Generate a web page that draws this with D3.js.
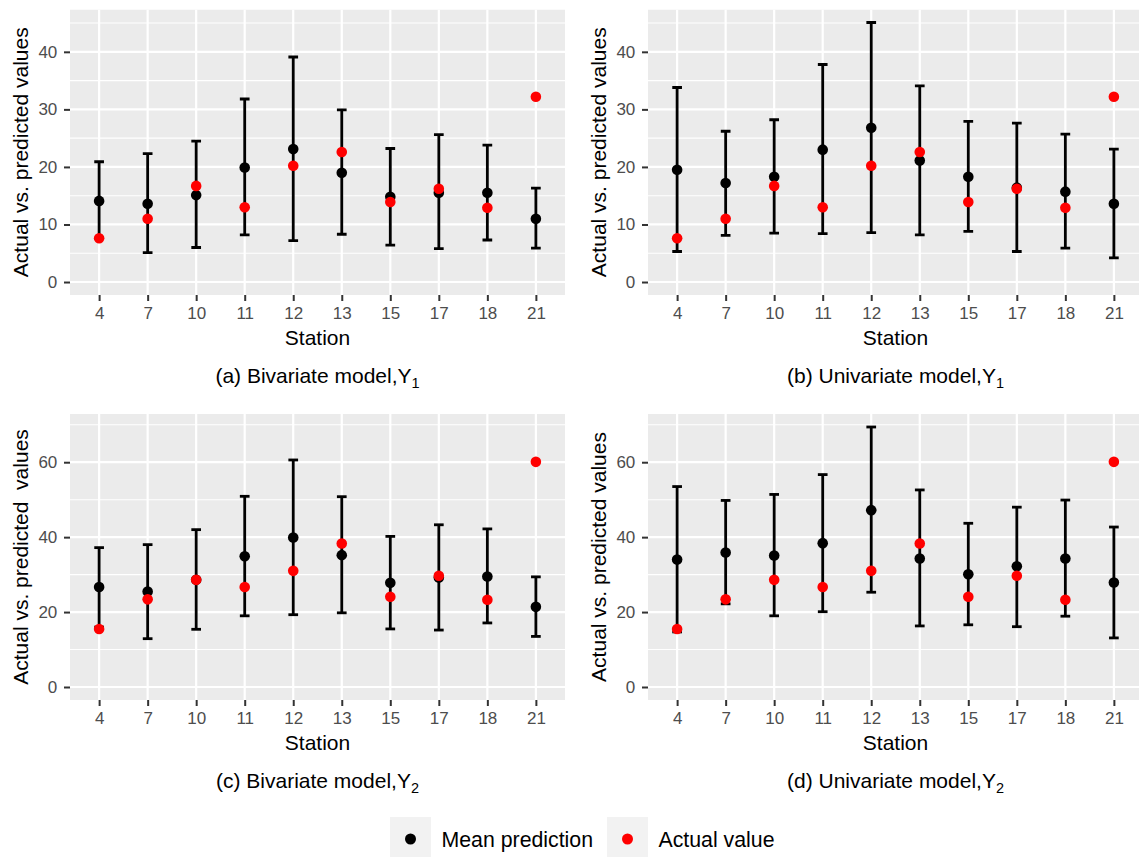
<!DOCTYPE html>
<html>
<head>
<meta charset="utf-8">
<script src="https://cdn.jsdelivr.net/npm/d3@7"></script>
<style>
  html, body { margin: 0; padding: 0; background: #fff; }
  svg { display: block; font-family: "Liberation Sans", Arial, Helvetica, sans-serif; }
  text { white-space: pre; }
</style>
</head>
<body>
<svg id="chart" width="1139" height="857"></svg>
<script>
// ---------------- data ----------------
const stations = ["4", "7", "10", "11", "12", "13", "15", "17", "18", "21"];

const actualY1   = [7.6, 11.0, 16.7, 13.0, 20.2, 22.6, 13.9, 16.2, 12.9, 32.2];
const biY1Mean   = [14.1, 13.6, 15.1, 19.9, 23.1, 19.0, 14.8, 15.5, 15.5, 11.0];
const biY1Lower  = [7.6, 5.1, 6.0, 8.2, 7.2, 8.3, 6.4, 5.8, 7.3, 5.9];
const biY1Upper  = [20.9, 22.3, 24.5, 31.8, 39.1, 29.9, 23.2, 25.6, 23.8, 16.3];
const uniY1Mean  = [19.5, 17.2, 18.3, 23.0, 26.8, 21.1, 18.3, 16.4, 15.7, 13.6];
const uniY1Lower = [5.3, 8.1, 8.5, 8.4, 8.6, 8.2, 8.8, 5.3, 5.9, 4.2];
const uniY1Upper = [33.8, 26.2, 28.2, 37.8, 45.1, 34.1, 27.9, 27.6, 25.7, 23.1];

const actualY2   = [15.5, 23.4, 28.6, 26.7, 31.0, 38.3, 24.1, 29.7, 23.3, 60.1];
const biY2Mean   = [26.7, 25.5, 28.6, 34.9, 39.9, 35.2, 27.8, 29.2, 29.5, 21.4];
const biY2Lower  = [16.0, 12.9, 15.4, 19.0, 19.3, 19.8, 15.5, 15.2, 17.1, 13.5];
const biY2Upper  = [37.2, 38.0, 42.0, 50.9, 60.6, 50.8, 40.2, 43.3, 42.2, 29.4];
const uniY2Mean  = [34.0, 35.9, 35.1, 38.4, 47.2, 34.3, 30.1, 32.2, 34.3, 27.9];
const uniY2Lower = [14.7, 22.2, 19.0, 20.1, 25.3, 16.3, 16.6, 16.1, 18.9, 13.1];
const uniY2Upper = [53.5, 49.8, 51.4, 56.7, 69.4, 52.6, 43.7, 48.0, 49.9, 42.7];

const yTicksTop = [0, 10, 20, 30, 40];
const yMinorTop = [5, 15, 25, 35, 45];
const yTicksBottom = [0, 20, 40, 60];
const yMinorBottom = [10, 30, 50, 70];

const xTitle = "Station";
const legendLabels = ["Mean prediction", "Actual value"];
const legendColors = ["#000000", "#FF0000"];

// ---------------- layout ----------------
const svg = d3.select("#chart");
const colX = [[70, 565], [648, 1143]];
const rowY = [[9.5, 295], [414, 700]];

function rowDomain(arrs) {
  const all = [0].concat(...arrs);
  const lo = d3.min(all), hi = d3.max(all);
  const pad = (hi - lo) * 0.05;
  return [lo - pad, hi + pad];
}
const domTop = rowDomain([actualY1, biY1Lower, biY1Upper, biY1Mean, uniY1Lower, uniY1Upper, uniY1Mean]);
const domBottom = rowDomain([actualY2, biY2Lower, biY2Upper, biY2Mean, uniY2Lower, uniY2Upper, uniY2Mean]);

const panels = [
  { col: 0, row: 0, mean: biY1Mean, lower: biY1Lower, upper: biY1Upper, actual: actualY1,
    dom: domTop, ticks: yTicksTop, minor: yMinorTop,
    ylab: "Actual vs. predicted values", cap: "(a) Bivariate model,Y", sub: "1" },
  { col: 1, row: 0, mean: uniY1Mean, lower: uniY1Lower, upper: uniY1Upper, actual: actualY1,
    dom: domTop, ticks: yTicksTop, minor: yMinorTop,
    ylab: "Actual vs. predicted values", cap: "(b) Univariate model,Y", sub: "1" },
  { col: 0, row: 1, mean: biY2Mean, lower: biY2Lower, upper: biY2Upper, actual: actualY2,
    dom: domBottom, ticks: yTicksBottom, minor: yMinorBottom,
    ylab: "Actual vs. predicted  values", cap: "(c) Bivariate model,Y", sub: "2" },
  { col: 1, row: 1, mean: uniY2Mean, lower: uniY2Lower, upper: uniY2Upper, actual: actualY2,
    dom: domBottom, ticks: yTicksBottom, minor: yMinorBottom,
    ylab: "Actual vs. predicted values", cap: "(d) Univariate model,Y", sub: "2" }
];

panels.forEach(p => {
  const [x0, x1] = colX[p.col];
  const [y0, y1] = rowY[p.row];
  const x = d3.scalePoint().domain(stations).range([x0, x1]).padding(0.6);
  const y = d3.scaleLinear().domain(p.dom).range([y1, y0]);
  const g = svg.append("g");

  const clipId = "clip" + p.col + p.row;
  svg.append("clipPath").attr("id", clipId)
    .append("rect").attr("x", x0).attr("y", y0).attr("width", x1 - x0).attr("height", y1 - y0);

  const pg = g.append("g").attr("clip-path", `url(#${clipId})`);
  pg.append("rect").attr("x", x0).attr("y", y0).attr("width", x1 - x0).attr("height", y1 - y0)
    .attr("fill", "#EBEBEB");

  pg.selectAll(".ymin").data(p.minor.filter(v => v >= p.dom[0] && v <= p.dom[1])).enter().append("line")
    .attr("x1", x0).attr("x2", x1).attr("y1", d => y(d)).attr("y2", d => y(d))
    .attr("stroke", "#fff").attr("stroke-width", 1.1);
  pg.selectAll(".ymaj").data(p.ticks).enter().append("line")
    .attr("x1", x0).attr("x2", x1).attr("y1", d => y(d)).attr("y2", d => y(d))
    .attr("stroke", "#fff").attr("stroke-width", 2.2);
  pg.selectAll(".xmaj").data(stations).enter().append("line")
    .attr("x1", d => x(d)).attr("x2", d => x(d)).attr("y1", y0).attr("y2", y1)
    .attr("stroke", "#fff").attr("stroke-width", 2.2);

  const rows = stations.map((s, i) => ({ s, mean: p.mean[i], lo: p.lower[i], hi: p.upper[i], act: p.actual[i] }));
  const half = x.step() * 0.1;
  const eb = pg.selectAll(".eb").data(rows).enter().append("g");
  eb.append("line").attr("x1", d => x(d.s)).attr("x2", d => x(d.s))
    .attr("y1", d => y(d.lo)).attr("y2", d => y(d.hi))
    .attr("stroke", "#000").attr("stroke-width", 2.8);
  eb.append("line").attr("x1", d => x(d.s) - half).attr("x2", d => x(d.s) + half)
    .attr("y1", d => y(d.lo)).attr("y2", d => y(d.lo))
    .attr("stroke", "#000").attr("stroke-width", 2.8);
  eb.append("line").attr("x1", d => x(d.s) - half).attr("x2", d => x(d.s) + half)
    .attr("y1", d => y(d.hi)).attr("y2", d => y(d.hi))
    .attr("stroke", "#000").attr("stroke-width", 2.8);

  pg.selectAll(".mean").data(rows).enter().append("circle")
    .attr("cx", d => x(d.s)).attr("cy", d => y(d.mean)).attr("r", 5.3).attr("fill", legendColors[0]);
  pg.selectAll(".act").data(rows).enter().append("circle")
    .attr("cx", d => x(d.s)).attr("cy", d => y(d.act)).attr("r", 5.3).attr("fill", legendColors[1]);

  const ax = g.append("g").attr("transform", `translate(0,${y1})`)
    .call(d3.axisBottom(x).tickSize(6).tickPadding(6.2));
  const ay = g.append("g").attr("transform", `translate(${x0},0)`)
    .call(d3.axisLeft(y).tickValues(p.ticks).tickSize(6).tickPadding(6.7));
  [ax, ay].forEach(a => {
    a.select(".domain").remove();
    a.selectAll(".tick line").attr("stroke", "#333333").attr("stroke-width", 2);
    a.selectAll(".tick text").attr("fill", "#4D4D4D").style("font-size", "17px")
      .style("font-family", "'Liberation Sans', Arial, sans-serif");
  });

  const cx = (x0 + x1) / 2;
  g.append("text").attr("x", cx).attr("y", y1 + 49.5).attr("text-anchor", "middle")
    .style("font-size", "21px").attr("fill", "#000").text(xTitle);
  g.append("text").attr("transform", `translate(${x0 - 42},${(y0 + y1) / 2}) rotate(-90)`)
    .attr("text-anchor", "middle").style("font-size", "21px").attr("fill", "#000").text(p.ylab);

  const cap = g.append("text").attr("x", cx).attr("y", y1 + 87.5).attr("text-anchor", "middle")
    .style("font-size", "21px").attr("fill", "#000");
  cap.append("tspan").text(p.cap);
  cap.append("tspan").attr("dy", 5).style("font-size", "14.5px").text(p.sub);
});

// ---------------- legend ----------------
const legX = [390, 607];
const lg = svg.append("g");
legendLabels.forEach((lab, i) => {
  lg.append("rect").attr("x", legX[i]).attr("y", 817).attr("width", 41).attr("height", 40).attr("fill", "#F2F2F2");
  lg.append("circle").attr("cx", legX[i] + 20.5).attr("cy", 839).attr("r", 5.5).attr("fill", legendColors[i]);
  lg.append("text").attr("x", legX[i] + 51.5).attr("y", 846.5).style("font-size", "21.3px").attr("fill", "#000").text(lab);
});
</script>
</body>
</html>
